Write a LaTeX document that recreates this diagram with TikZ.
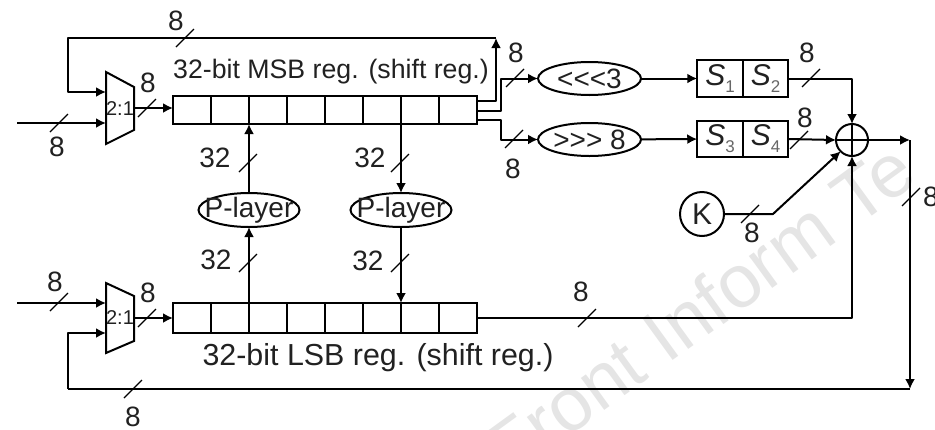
\documentclass[tikz,border=0pt]{standalone}
\usepackage{fontspec}
\setmainfont{Liberation Sans}
\usepackage{xcolor}
\usetikzlibrary{arrows.meta,positioning,calc,shapes.geometric}
\definecolor{inkgray}{gray}{0.13}
\definecolor{markgray}{gray}{0.9}
\newcommand{\px}[1]{\fontsize{#1}{#1}\selectfont}
\newcommand{\sname}[1]{S\raisebox{-7pt}{\upshape\px{17}\color{black!60}#1}}
\tikzset{
  bus/.style={line width=2pt,line join=round},
  busarrow/.style={bus,-{Latex[length=10pt,width=10pt]}},
  cutline/.style={line width=1.2pt},
  cell/.style={draw,line width=2pt,minimum width=38pt,minimum height=28pt,inner sep=0pt,outer sep=0pt},
  sbox/.style={draw,line width=2.4pt,minimum width=45.5pt,minimum height=36.5pt,inner sep=0pt,outer sep=0pt,text=inkgray,font=\px{30}\itshape},
  oval/.style={draw,ellipse,line width=2pt,minimum width=103pt,minimum height=33pt,inner sep=-12pt,outer sep=0pt,text=inkgray,font=\px{28}},
  buslabel/.style={text=inkgray,font=\px{28},inner sep=0pt},
  reglabel/.style={text=inkgray,inner sep=0pt}
}
\begin{document}
\begin{tikzpicture}[x=1pt,y=-1pt]
\useasboundingbox (0,0) rectangle (935,429);
\node[text=markgray,font=\px{75},rotate=36,anchor=base west,inner sep=0pt] (markname) at (509,480) {Front Inform Te};

% registers
\foreach \i in {1,...,8} {
  \node[cell] (msb\i) at (154+38*\i,110) {};
  \node[cell,minimum height=30pt] (lsb\i) at (154+38*\i,318) {};
}
\node[reglabel,font=\px{26.7}] (msbname) at (331,72) {32-bit MSB reg. (shift reg.)};
\node[reglabel,font=\px{30.4}] (lsbname) at (378,358) {32-bit LSB reg. (shift reg.)};

% muxes
\draw[line width=2pt,line join=miter] (106,72) -- (134,87) -- (134,130) -- (106,144) -- cycle;
\draw[line width=2pt,line join=miter] (106,283) -- (134,296) -- (134,341) -- (106,353) -- cycle;
\node[text=inkgray,font=\px{20},inner sep=0pt] (muxa) at (120,109) {2:1};
\node[text=inkgray,font=\px{20},inner sep=0pt] (muxb) at (120,318) {2:1};

% ovals and s-boxes
\node[oval] (rotl) at (589.5,78.5) {<{}<{}<3};
\node[oval] (rotr) at (589.5,139.5) {>{}>{}> 8};
\node[oval,minimum width=101pt,minimum height=34pt] (play) at (249,210) {P-layer};
\node[oval,minimum width=101pt,minimum height=34pt] (plax) at (401,210) {P-layer};
\node[sbox] (sa) at (720,78.5) {\sname{1}};
\node[sbox] (sb) at (765.5,78.5) {\sname{2}};
\node[sbox] (sc) at (720,139) {\sname{3}};
\node[sbox] (sd) at (765.5,139) {\sname{4}};
\node[draw,circle,line width=2pt,minimum size=32pt,inner sep=0pt,outer sep=0pt] (xor) at (852,140) {};
\draw[line width=1.7pt] (xor.north) -- (xor.south) (xor.west) -- (xor.east);
\node[draw,circle,line width=2pt,minimum size=44pt,inner sep=0pt,outer sep=0pt,text=inkgray,font=\px{30}] (key) at (702,214) {K};

% connectors
\coordinate (turn) at (496,38);
\coordinate (loopa) at (68,38);
\coordinate (muxain) at (106,92);
\coordinate (muxbin) at (106,333);
\coordinate (loopb) at (68,389);
\coordinate (drop) at (910,140);
\coordinate (dropend) at (910,389);
\coordinate (keybend) at (773,214);
\coordinate (ina) at (17,123);
\coordinate (inb) at (17,303);
\draw[busarrow] (msb8.east |- 0,101) -| (turn);
\draw[busarrow] (turn) -- (loopa) |- (muxain);
\draw[busarrow] (ina) -- (106,123);
\draw[busarrow] (inb) -- (106,303);
\draw[busarrow] (134,108) -- (msb1.west |- 0,108);
\draw[busarrow] (134,318) -- (lsb1.west);
\draw[busarrow] (msb8.east |- 0,111) -- (501,111) -- (501,78.5) -- (rotl.west);
\draw[busarrow] (msb8.east |- 0,120) -- (501,120) -- (501,139.5) -- (rotr.west);
\draw[busarrow] (rotl) -- (sa);
\draw[busarrow] (rotr) -- (sc);
\draw[busarrow] (sb.east) -| (xor.north);
\draw[busarrow] (sd.east) -- (xor.west);
\draw[busarrow] (key.east) -- (keybend) -- (xor.south west);
\draw[busarrow] (lsb8.east) -| (xor.south);
\draw[busarrow] (xor.east) -- (drop);
\draw[busarrow] (drop) -- (dropend);
\draw[bus] (dropend) -- (loopb);
\draw[busarrow] (loopb) |- (muxbin);
\draw[busarrow] (play.north) -- (msb2.south east);
\draw[busarrow] (msb6.south east) -- (plax.north);
\draw[busarrow] (lsb2.north east) -- (play.south);
\draw[busarrow] (plax.south) -- (lsb6.north east);

% bus widths: tick x/y, label x/y, text
\foreach \x/\y/\lx/\ly/\t [count=\i] in {185/38/176/21/8,59/123/57/147/8,147/108/148/83/8,
    59/302/55/282/8,147/318/148/293/8,133/389/133/417/8,587/318/581/292/8,
    248/163/215/158/32,400/163/370/158/32,248/263/216/260/32,400/263/368/261/32,
    515/78/516/53/8,514/139/513/169/8,811/78/807/53/8,799/140/805/118/8,
    750/214/752/233/8,911/197/931/197/8} {
  \draw[cutline] (\x-9,\y+9) -- (\x+9,\y-9);
  \node[buslabel] (width\i) at (\lx,\ly) {\t};
}
\end{tikzpicture}
\end{document}
